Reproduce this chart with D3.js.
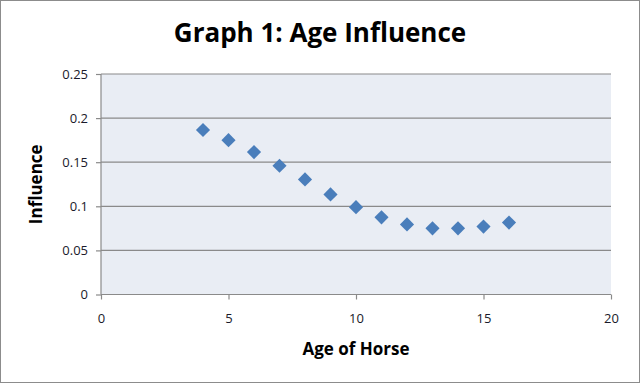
<!DOCTYPE html>
<html lang="en">
<head>
    <meta charset="UTF-8">
    <title>Graph 1: Age Influence</title>
    <script src="https://cdn.jsdelivr.net/npm/d3@7"></script>
    <style>
        body{margin:0;background:#fff;}
        text{font-family:"Open Sans",sans-serif;}
    </style>
</head>
<body>
<div class="chart"></div>
<script>
    //data
    let ages=[4,5,6,7,8,9,10,11,12,13,14,15,16]
    let influence=[0.1865,0.175,0.1615,0.146,0.1305,0.1135,0.099,0.0875,0.0795,0.075,0.075,0.077,0.0815]
    let xTicks=[0,5,10,15,20]
    let yTicks=[0,0.05,0.1,0.15,0.2,0.25]

    let W=640,H=383
    let m={left:101,right:611,top:74,bottom:294.5}
    let svg=d3.select('.chart').append('svg').attr('width',W).attr('height',H)

    svg.append('rect').attr('x',0.5).attr('y',0.5).attr('width',W-1).attr('height',H-1)
        .attr('fill','#fff').attr('stroke','#8c8c8c')

    let x=d3.scaleLinear().domain([0,20]).range([m.left,m.right])
    let y=d3.scaleLinear().domain([0,0.25]).range([m.bottom,m.top])

    //plot area
    svg.append('rect').attr('x',m.left).attr('y',m.top)
        .attr('width',m.right-m.left).attr('height',m.bottom-m.top).attr('fill','#e9edf4')

    //grid
    svg.append('g').selectAll('line').data(yTicks.slice(1)).join('line')
        .attr('x1',m.left).attr('x2',m.right).attr('y1',d=>y(d)).attr('y2',d=>y(d))
        .attr('stroke','#8a8a8a').attr('stroke-width',1.2)

    //axes
    let yAxis=d3.axisLeft(y).tickValues(yTicks).tickSize(5).tickPadding(8).tickFormat(d=>d3.format('')(+d.toFixed(2)))
    let xAxis=d3.axisBottom(x).tickValues(xTicks).tickSize(5).tickPadding(14).tickFormat(d3.format('d'))
    let gy=svg.append('g').attr('transform','translate('+m.left+',0)').call(yAxis)
    let gx=svg.append('g').attr('transform','translate(0,'+m.bottom+')').call(xAxis)
    ;[gx,gy].forEach(g=>{
        g.select('.domain').attr('stroke','#8a8a8a').attr('stroke-width',1.2)
        g.selectAll('.tick line').attr('stroke','#8a8a8a').attr('stroke-width',1.2)
        g.selectAll('.tick text').attr('font-size',13).attr('fill','#1a1a2a')
    })
    gx.select('.domain').attr('d','M'+m.left+',0H'+m.right)
    gy.select('.domain').attr('d','M0,'+m.top+'V'+m.bottom)

    //points
    svg.append('g').selectAll('path').data(ages).join('path')
        .attr('d',d3.symbol().type(d3.symbolDiamond2).size(128))
        .attr('transform',(d,i)=>'translate('+x(d)+','+y(influence[i])+')')
        .attr('fill','#4a7ebb')

    //text
    svg.append('text').attr('x',320).attr('y',42).attr('text-anchor','middle')
        .attr('font-size',26).attr('font-weight','bold').attr('fill','#000').text('Graph 1: Age Influence')
    svg.append('text').attr('x',(m.left+m.right)/2).attr('y',355).attr('text-anchor','middle')
        .attr('font-size',17).attr('font-weight','bold').attr('fill','#000').text('Age of Horse')
    svg.append('text').attr('transform','translate(42,'+(m.top+m.bottom)/2+') rotate(-90)').attr('text-anchor','middle')
        .attr('font-size',17).attr('font-weight','bold').attr('fill','#000').text('Influence')
</script>
</body>
</html>
